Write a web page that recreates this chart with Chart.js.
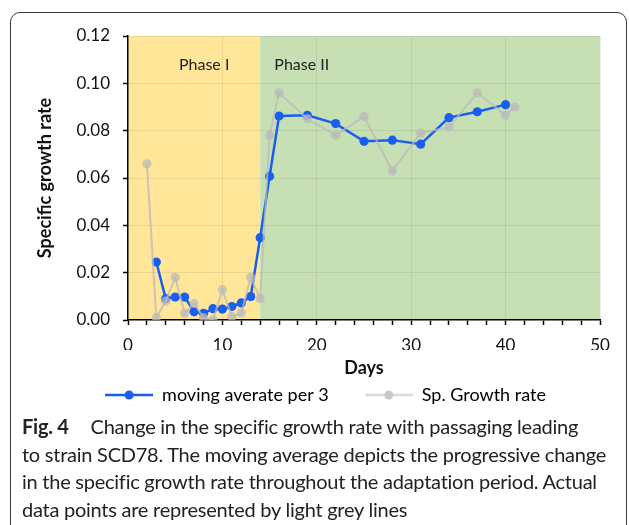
<!DOCTYPE html>
<html>
<head>
<meta charset="utf-8">
<script src="https://cdn.jsdelivr.net/npm/chart.js@4"></script>
<style>
  html, body { margin:0; padding:0; background:#fff; width:629px; height:525px; overflow:hidden; }
  #frame { position:absolute; left:10px; top:12px; width:617px; height:600px; border:1.3px solid #3a3a3a; border-radius:10px; box-sizing:border-box; }
  #wrap { position:absolute; left:0; top:0; width:629px; height:420px; }
  #caption { position:absolute; left:22px; top:413px; font-family:Lato, sans-serif; font-size:20px; line-height:27.5px; color:#222; white-space:nowrap; letter-spacing:-0.25px; }
  #caption b { font-weight:bold; margin-right:17px; }
</style>
</head>
<body>
<div id="frame"></div>
<div id="wrap"><canvas id="c" width="629" height="420"></canvas></div>
<div id="caption"><b>Fig. 4</b> Change in the specific growth rate with passaging leading<br>to strain SCD78. The moving average depicts the progressive change<br>in the specific growth rate throughout the adaptation period. Actual<br>data points are represented by light grey lines</div>
<script>
// ---- data ----
const maDays = [3,4,5,6,7,8,9,10,11,12,13,14,15,16,19,22,25,28,31,34,37,40];
const maValues = [0.0245,0.009,0.0097,0.0097,0.0035,0.0028,0.0048,0.0046,0.0057,0.0072,0.0099,0.0348,0.0607,0.0862,0.0865,0.0830,0.0755,0.0760,0.0743,0.0855,0.0880,0.0910];
const spDays = [2,3,4,5,6,7,8,9,10,11,12,13,14,15,16,19,22,25,28,31,34,37,40,41];
const spValues = [0.066,0.001,0.008,0.018,0.0028,0.007,0.001,0.0,0.0128,0.0014,0.003,0.018,0.009,0.078,0.096,0.085,0.078,0.086,0.063,0.079,0.0815,0.096,0.0865,0.090];
const seriesNames = ["moving averate per 3", "Sp. Growth rate"];
const phases = [{label:"Phase I", from:0, to:14}, {label:"Phase II", from:14, to:50}];
const xTitle = "Days";
const yTitle = "Specific growth rate";

const BLUE = '#1a5ef0';
const GREY = 'rgba(185,185,185,0.75)';

function legendIcon(lineColor, dotColor) {
  const cv = document.createElement('canvas');
  cv.width = 48; cv.height = 12;
  const g = cv.getContext('2d');
  g.strokeStyle = lineColor; g.lineWidth = 2.5;
  g.beginPath(); g.moveTo(0, 6); g.lineTo(48, 6); g.stroke();
  g.fillStyle = dotColor;
  g.beginPath(); g.arc(24, 6, 4.5, 0, Math.PI*2); g.fill();
  return cv;
}
const icons = [legendIcon(BLUE, BLUE), legendIcon('#dcdcdc', '#c8c8c8')];

const bandPlugin = {
  id: 'bands',
  beforeDraw(chart) {
    const {ctx, chartArea, scales} = chart;
    const colors = ['#ffe699', '#c6e0b4'];
    ctx.save();
    phases.forEach((p, i) => {
      const x0 = scales.x.getPixelForValue(p.from);
      const x1 = scales.x.getPixelForValue(p.to);
      ctx.fillStyle = colors[i];
      ctx.fillRect(x0, chartArea.top, x1 - x0, chartArea.bottom - chartArea.top);
    });
    ctx.restore();
  },
  afterDatasetsDraw(chart) {
    const {ctx, chartArea, scales} = chart;
    ctx.save();
    ctx.font = '16px Lato, sans-serif';
    ctx.fillStyle = '#222';
    ctx.textBaseline = 'middle';
    const offs = [5.4, 1.5];
    phases.forEach((p, i) => {
      ctx.fillText(p.label, scales.x.getPixelForValue(p.from + offs[i]), chartArea.top + 29);
    });
    ctx.restore();
  }
};

new Chart(document.getElementById('c'), {
  type: 'line',
  data: {
    datasets: [
      { label: seriesNames[0], data: maDays.map((d,i)=>({x:d, y:maValues[i]})),
        borderColor: BLUE, backgroundColor: BLUE, borderWidth: 2.5,
        pointRadius: 4.6, pointBorderWidth: 0, pointBackgroundColor: BLUE, order: 2,
        pointStyle: 'circle' },
      { label: seriesNames[1], data: spDays.map((d,i)=>({x:d, y:spValues[i]})),
        borderColor: GREY, backgroundColor: GREY, borderWidth: 2,
        pointRadius: 4.6, pointBorderWidth: 0, pointBackgroundColor: GREY, order: 1,
        pointStyle: 'circle' }
    ]
  },
  options: {
    responsive: false,
    animation: false,
    layout: { padding: { left: 51, right: 29, top: 36, bottom: 6 } },
    plugins: {
      tooltip: { enabled: false },
      legend: {
        position: 'bottom',
        labels: {
          usePointStyle: true,
          pointStyleWidth: 48,
          padding: 36,
          color: '#222',
          font: { family: 'Lato, sans-serif', size: 18 },
          sort: (a, b) => a.datasetIndex - b.datasetIndex,
          generateLabels: (chart) => chart.data.datasets.map((ds, i) => ({
            text: ds.label, pointStyle: icons[i], datasetIndex: i,
            fillStyle: 'transparent', strokeStyle: 'transparent', lineWidth: 0, hidden: false
          }))
        }
      }
    },
    scales: {
      x: {
        type: 'linear', min: 0, max: 50,
        ticks: { stepSize: 2, autoSkip: false, maxRotation: 0, padding: 10, color: '#111',
          font: { family: 'Lato, sans-serif', size: 17 },
          callback: (v) => (v % 10 === 0 ? String(v) : '') },
        grid: { color: (c) => (c.tick && c.tick.value % 10 === 0 && c.tick.value > 0 ? 'rgba(0,0,0,0.07)' : 'rgba(0,0,0,0)'),
          tickColor: '#000', tickLength: 5, lineWidth: 1, tickWidth: 1.5 },
        border: { color: '#000', width: 1.5 },
        title: { display: true, text: xTitle, color: '#111', padding: { top: 0, bottom: -28.8 },
          font: { family: 'Lato, sans-serif', size: 18, weight: 'bold' } },
        afterFit: (s) => { s.height = 30; }
      },
      y: {
        min: 0, max: 0.12,
        ticks: { stepSize: 0.02, padding: 13, color: '#111',
          font: { family: 'Lato, sans-serif', size: 17 },
          callback: (v) => v.toFixed(2) },
        grid: { color: (c) => (c.tick && c.tick.value > 0.001 ? 'rgba(0,0,0,0.07)' : 'rgba(0,0,0,0)'),
          tickColor: '#000', tickLength: 5, lineWidth: 1, tickWidth: 1.5 },
        border: { color: '#000', width: 1.5 },
        title: { display: true, text: yTitle, color: '#111', padding: { top: -16.8, bottom: 0 },
          font: { family: 'Lato, sans-serif', size: 18, weight: 'bold' } },
        afterFit: (s) => { s.width = 77; }
      }
    }
  },
  plugins: [bandPlugin]
});
</script>
</body>
</html>
